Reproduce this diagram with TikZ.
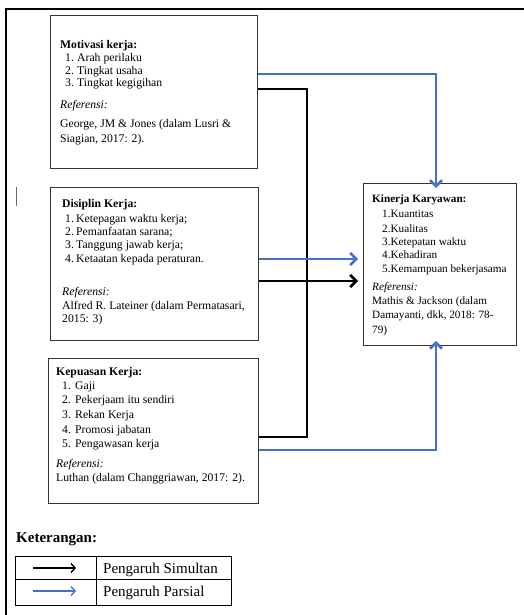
\documentclass[tikz,border=0pt]{standalone}
\usepackage{fontspec}
\setmainfont{Liberation Serif}
\usetikzlibrary{arrows.meta}
\definecolor{wblue}{HTML}{4472C4}
\begin{document}
\begin{tikzpicture}[x=1pt,y=-1pt,
  box/.style={draw=black!80,line width=0.9pt,anchor=north west,inner sep=0pt},
  tx/.style={anchor=base west,inner sep=0pt,font=\fontsize{11.7}{13}\selectfont},
  hd/.style={tx,font=\fontsize{11.7}{13}\selectfont\bfseries},
  kt/.style={anchor=base west,inner sep=0pt,font=\fontsize{11.2}{13}\selectfont},
  blk/.style={draw=black,line width=2.8pt},
  blu/.style={draw=wblue,line width=2.8pt},
  tip/.style={-{Straight Barb[length=6pt,width=12pt,line width=2.6pt]}}
]
\useasboundingbox (0,0) rectangle (524,615);
% outer frame
\draw[line width=2pt] (524,9) -- (6,9) -- (6,615);
\draw[black!60,line width=1pt] (16,187) -- (16,206);
% boxes
\node[box,minimum width=207pt,minimum height=153pt] (m) at (50,15) {};
\node[box,minimum width=208pt,minimum height=153pt] (d) at (50,187) {};
\node[box,minimum width=210pt,minimum height=145pt] (kp) at (48,358) {};
\node[box,minimum width=153pt,minimum height=162pt] (k) at (363,183) {};
% box 1 text
\node[hd] (m0) at (60,49) {Motivasi kerja:};
\node[tx] (m1n) at (65,62) {1.}; \node[tx] (m1) at (77,62) {Arah perilaku};
\node[tx] (m2n) at (65,75) {2.}; \node[tx] (m2) at (77,75) {Tingkat usaha};
\node[tx] (m3n) at (65,87) {3.}; \node[tx] (m3) at (77,87) {Tingkat kegigihan};
\node[tx] (mr) at (60,109) {\itshape Referensi:};
\node[tx] (mr1) at (60,128) {George, JM \& Jones (dalam Lusri \&};
\node[tx] (mr2) at (60,142) {Siagian, 2017: 2).};
% box 2 text
\node[hd] (d0) at (62,207) {Disiplin Kerja:};
\node[tx] (d1n) at (65,222) {1.}; \node[tx] (d1) at (76,222) {Ketepagan waktu kerja;};
\node[tx] (d2n) at (65,235) {2.}; \node[tx] (d2) at (76,235) {Pemanfaatan sarana;};
\node[tx] (d3n) at (65,248) {3.}; \node[tx] (d3) at (76,248) {Tanggung jawab kerja;};
\node[tx] (d4n) at (65,262) {4.}; \node[tx] (d4) at (76,262) {Ketaatan kepada peraturan.};
\node[tx] (dr) at (62,295) {\itshape Referensi:};
\node[tx] (dr1) at (62,309) {Alfred R. Lateiner (dalam Permatasari,};
\node[tx] (dr2) at (62,322) {2015: 3)};
% box 3 text
\node[hd] (p0) at (56,375) {Kepuasan Kerja:};
\node[tx] (p1n) at (62,389) {1.}; \node[tx] (p1) at (75,389) {Gaji};
\node[tx] (p2n) at (62,403) {2.}; \node[tx] (p2) at (75,403) {Pekerjaam itu sendiri};
\node[tx] (p3n) at (62,418) {3.}; \node[tx] (p3) at (75,418) {Rekan Kerja};
\node[tx] (p4n) at (62,433) {4.}; \node[tx] (p4) at (75,433) {Promosi jabatan};
\node[tx] (p5n) at (62,447) {5.}; \node[tx] (p5) at (75,447) {Pengawasan kerja};
\node[tx] (pr) at (56,467) {\itshape Referensi:};
\node[tx] (pr1) at (56,481) {Luthan (dalam Changgriawan, 2017: 2).};
% box 4 text
\node[kt,font=\fontsize{11.2}{13}\selectfont\bfseries] (k0) at (372,202) {Kinerja Karyawan:};
\node[kt] (k1) at (382,217) {1.Kuantitas};
\node[kt] (k2) at (382,232) {2.Kualitas};
\node[kt] (k3) at (382,245) {3.Ketepatan waktu};
\node[kt] (k4) at (382,258) {4.Kehadiran};
\node[kt] (k5) at (382,272) {5.Kemampuan bekerjasama};
\node[kt] (kr) at (372,290) {\itshape Referensi:};
\node[kt] (kr1) at (372,304) {Mathis \& Jackson (dalam};
\node[kt] (kr2) at (372,318) {Damayanti, dkk, 2018: 78-};
\node[kt] (kr3) at (372,333) {79)};
% connectors
\coordinate (ya) at (0,74);
\coordinate (yb) at (0,89);
\coordinate (vb) at (307,437);
\coordinate (yc) at (0,259);
\coordinate (yd) at (0,281);
\coordinate (ye) at (0,450);
\coordinate (xa) at (436,0);
\draw[blu,tip] (m.east |- ya) -| ([yshift=-5pt]xa |- k.north);
\draw[blk] (m.east |- yb) -| (vb) -- (kp.east |- vb);
\draw[blu,tip] (d.east |- yc) -- ([xshift=-5pt]k.west |- yc);
\draw[blk,tip] (d.east |- yd) -- ([xshift=-5pt]k.west |- yd);
\draw[blu,tip] (kp.east |- ye) -| ([yshift=5pt]xa |- k.south);
% legend
\node[anchor=base west,inner sep=0pt,font=\fontsize{15}{17}\selectfont\bfseries] (ket) at (16,542) {Keterangan:};
\node[draw,line width=0.9pt,anchor=north west,minimum width=216pt,minimum height=49pt,inner sep=0pt] (lg) at (15,556) {};
\draw[line width=0.9pt] (lg.west |- 0,579) -- (lg.east |- 0,579);
\draw[line width=0.9pt] (96,556) -- (96,605);
\coordinate (la1) at (33,568); \coordinate (lb1) at (76,568);
\coordinate (la2) at (33,591); \coordinate (lb2) at (76,591);
\draw[black,line width=1.4pt,-{Straight Barb[length=4pt,width=9pt,line width=1.4pt]}] (la1) -- (lb1);
\draw[wblue,line width=1.4pt,-{Straight Barb[length=4pt,width=9pt,line width=1.4pt]}] (la2) -- (lb2);
\node[anchor=base west,inner sep=0pt,font=\fontsize{15}{17}\selectfont] (ls) at (103,573) {Pengaruh Simultan};
\node[anchor=base west,inner sep=0pt,font=\fontsize{15}{17}\selectfont] (lp) at (103,596) {Pengaruh Parsial};
\end{tikzpicture}
\end{document}
